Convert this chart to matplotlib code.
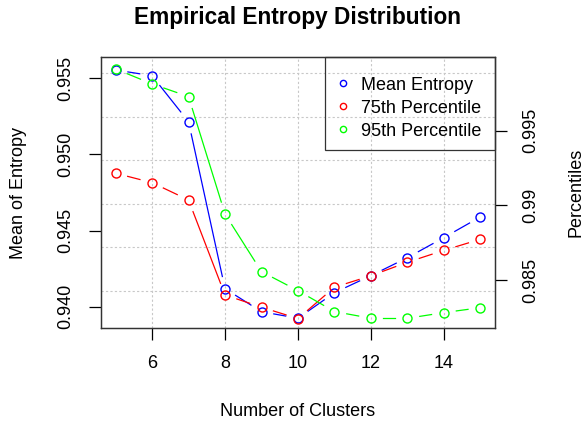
import numpy as np
import matplotlib
matplotlib.use("Agg")
import matplotlib.pyplot as plt
from matplotlib.patches import Rectangle

plt.rcParams['font.family'] = ['Liberation Sans', 'DejaVu Sans']

clusters = [5, 6, 7, 8, 9, 10, 11, 12, 13, 14, 15]
mean_entropy = [0.95555, 0.95517, 0.95215, 0.94118, 0.93967, 0.93924,
                0.94092, 0.94204, 0.94322, 0.94454, 0.94590]
p75 = [0.99215, 0.99152, 0.99036, 0.98400, 0.98318, 0.98242,
       0.98452, 0.98529, 0.98619, 0.98699, 0.98773]
p95 = [0.99913, 0.99813, 0.99728, 0.98942, 0.98556, 0.98429,
       0.98289, 0.98244, 0.98244, 0.98282, 0.98315]

x_ticks = [6, 8, 10, 12, 14]
left_ticks = [0.940, 0.945, 0.950, 0.955]
left_labels = ["0.940", "0.945", "0.950", "0.955"]
right_ticks = [0.985, 0.990, 0.995]
right_labels = ["0.985", "0.99", "0.995"]

FS = 13
GAP = 12.5  # pixels left open around each point, like R type="b"

fig = plt.figure(figsize=(5.84, 4.23), dpi=100)
ax = fig.add_axes([0.1729, 0.2246, 0.6747, 0.6406])
ax2 = ax.twinx()

ax.set_xlim(4.6, 15.4)
ax.set_ylim(0.93860, 0.95640)
ax2.set_ylim(0.98179, 0.99993)


def draw_b(axis, xs, ys, color):
    # points + line segments that stop short of the points
    axis.plot(xs, ys, ls='none', marker='o', ms=6.5, mfc='none', mec=color, mew=1)
    pts = axis.transData.transform(np.column_stack([xs, ys]))
    inv = axis.transData.inverted()
    for p, q in zip(pts[:-1], pts[1:]):
        d = q - p
        n = np.hypot(*d)
        if n <= 2 * GAP:
            continue
        u = d / n
        a = inv.transform(p + u * GAP)
        b = inv.transform(q - u * GAP)
        axis.plot([a[0], b[0]], [a[1], b[1]], color=color, lw=0.9)


# grid
for xv in x_ticks:
    ax.axvline(xv, color='#c8c8c8', ls=(0, (2, 2)), lw=0.8, zorder=0)
for yv in np.linspace(0.94103, 0.95533, 6):
    ax.axhline(yv, color='#c8c8c8', ls=(0, (2, 2)), lw=0.8, zorder=0)

draw_b(ax, clusters, mean_entropy, 'blue')
draw_b(ax2, clusters, p75, 'red')
draw_b(ax2, clusters, p95, '#00ff00')

ax.set_xticks(x_ticks)
ax.set_yticks(left_ticks)
ax.set_yticklabels(left_labels, rotation=90, va='center')
ax2.set_yticks(right_ticks)
ax2.set_yticklabels(right_labels, rotation=90, va='center')

ax.tick_params(axis='both', length=8.5, width=0.9, labelsize=FS, pad=11, direction='out')
ax2.tick_params(axis='y', length=8.5, width=0.9, labelsize=FS, pad=11, direction='out')
for s in list(ax.spines.values()) + list(ax2.spines.values()):
    s.set_linewidth(0.9)
    s.set_color('#333333')

ax.set_xlabel("Number of Clusters", fontsize=FS, labelpad=22)
ax.set_ylabel("Mean of Entropy", fontsize=FS)
ax.yaxis.set_label_coords(-0.188, 0.5)
ax2.set_ylabel("Percentiles", fontsize=FS)
ax2.yaxis.set_label_coords(1.183, 0.5)

fig.suptitle("Empirical Entropy Distribution", fontsize=16.3, fontweight='bold', x=0.51, y=0.985)

# legend frame like R's legend box (transparent inside)
ax2.add_patch(Rectangle((0.5685, 0.6568), 0.4315, 0.3432, transform=ax2.transAxes,
                        fill=False, ec='#333333', lw=0.9, clip_on=False, zorder=5))

handles = [
    plt.Line2D([], [], ls='none', marker='o', ms=6, mfc='none', mec='blue'),
    plt.Line2D([], [], ls='none', marker='o', ms=6, mfc='none', mec='red'),
    plt.Line2D([], [], ls='none', marker='o', ms=6, mfc='none', mec='#00ff00'),
]
ax2.legend(handles, ["Mean Entropy", "75th Percentile", "95th Percentile"],
           loc='upper left', bbox_to_anchor=(0.6005, 0.928), fontsize=FS,
           frameon=False, borderaxespad=0, borderpad=0, markerscale=0.75,
           handlelength=0.6, handletextpad=0.7, labelspacing=0.34)

fig.savefig("out.png", dpi=100)
